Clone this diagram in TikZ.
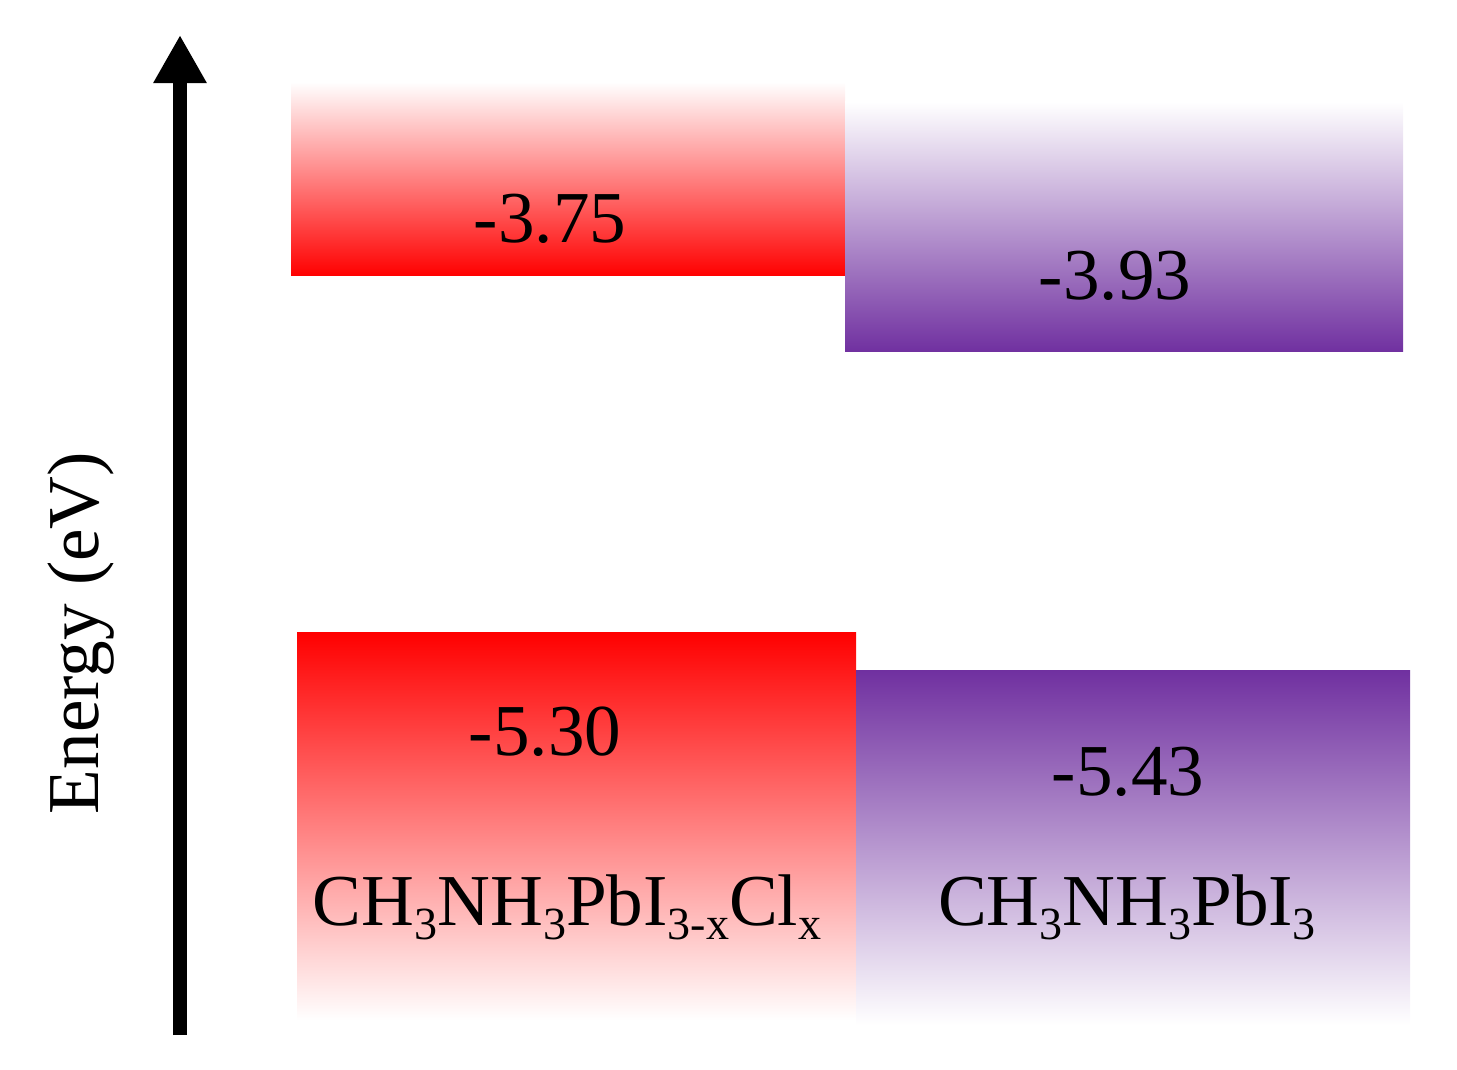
\documentclass[tikz,border=0pt]{standalone}
\usepackage{fontspec}
\setmainfont{Liberation Serif}
\usetikzlibrary{arrows.meta}
\definecolor{ored}{RGB}{255,0,0}
\definecolor{opurple}{RGB}{112,48,160}
\newcommand{\sbx}[1]{\raisebox{-0.2em}{\fontsize{13.1pt}{15pt}\selectfont #1}}
\tikzset{
  lbl/.style={font=\fontsize{20.8pt}{24pt}\selectfont, anchor=base, inner sep=0pt},
  redup/.style={top color=white, bottom color=ored},
  purpup/.style={top color=white, bottom color=opurple},
  reddown/.style={top color=ored, bottom color=white},
  purpdown/.style={top color=opurple, bottom color=white},
}
\begin{document}
\begin{tikzpicture}[x=0.01cm,y=-0.01cm]
\useasboundingbox (0,0) rectangle (1457,1070);
% bands
\shade[redup] (291,82) rectangle (845,276);
\shade[purpup] (845,102) rectangle (1403,352);
\shade[reddown] (297,632) rectangle (856,1020);
\shade[purpdown] (856,670) rectangle (1410,1025);
% values
\node[lbl] (v1) at (550,242) {-3.75};
\node[lbl] (v2) at (1115,300) {-3.93};
\node[lbl] (v3) at (545,755) {-5.30};
\node[lbl] (v4) at (1128,795) {-5.43};
% compounds
\node[lbl] (c1) at (567,925) {CH\sbx{3}NH\sbx{3}PbI\sbx{3-x}Cl\sbx{x}};
\node[lbl] (c2) at (1127,925) {CH\sbx{3}NH\sbx{3}PbI\sbx{3}};
% axis
\coordinate (abot) at (180,1035);
\coordinate (atop) at (180,35);
\draw[line width=0.14cm, -{Triangle[width=0.5cm,length=0.48cm]}] (abot) -- (atop);
\node[lbl, rotate=90] (elab) at (98,633) {Energy (eV)};
\end{tikzpicture}
\end{document}
